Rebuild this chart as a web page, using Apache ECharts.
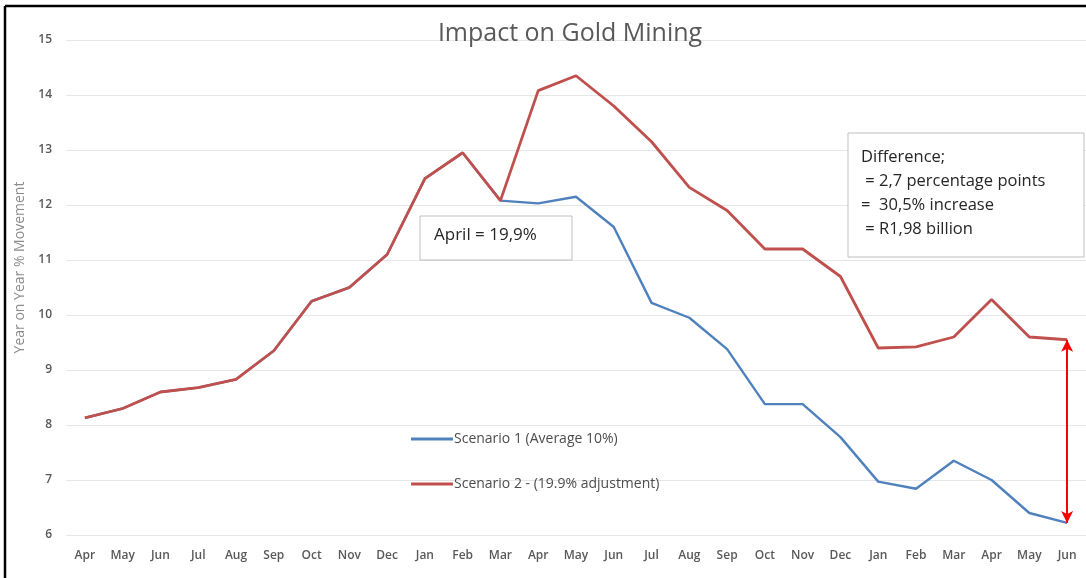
<!DOCTYPE html>
<html>
<head>
<meta charset="utf-8">
<script src="https://cdn.jsdelivr.net/npm/echarts@6/dist/echarts.min.js"></script>
<style>
  html, body { margin: 0; padding: 0; background: #fff; }
  #chart { width: 1086px; height: 578px; }
</style>
</head>
<body>
<div id="chart"></div>
<script>
// months, Apr of year 1 to Jun of year 3
const months = ["Apr", "May", "Jun", "Jul", "Aug", "Sep", "Oct", "Nov", "Dec", "Jan", "Feb", "Mar",
  "Apr", "May", "Jun", "Jul", "Aug", "Sep", "Oct", "Nov", "Dec", "Jan", "Feb", "Mar", "Apr", "May", "Jun"];
const scenario1 = [8.13, 8.3, 8.6, 8.68, 8.83, 9.35, 10.25, 10.5, 11.1, 12.48, 12.95, 12.08,
  12.03, 12.15, 11.6, 10.22, 9.95, 9.38, 8.38, 8.38, 7.78, 6.97, 6.84, 7.35, 7.0, 6.4, 6.22];
const scenario2 = [8.13, 8.3, 8.6, 8.68, 8.83, 9.35, 10.25, 10.5, 11.1, 12.48, 12.95, 12.08,
  14.08, 14.35, 13.8, 13.15, 12.32, 11.9, 11.2, 11.2, 10.7, 9.4, 9.42, 9.6, 10.28, 9.6, 9.55];
const seriesNames = ["Scenario 1 (Average 10%)", "Scenario 2 - (19.9% adjustment)"];
const yTicks = [6, 15, 1]; // min, max, step

const lastIdx = months.length - 1;
const font = "'Open Sans', 'Liberation Sans', sans-serif";

const chart = echarts.init(document.getElementById("chart"));
chart.setOption({
  animation: false,
  textStyle: { fontFamily: font },
  title: {
    text: "Impact on Gold Mining",
    left: 565,
    textAlign: "center",
    top: 16,
    textStyle: { fontSize: 25, fontWeight: "normal", color: "#595959", fontFamily: font }
  },
  legend: {
    orient: "vertical",
    left: 406,
    top: 427,
    itemGap: 31,
    itemWidth: 42,
    itemHeight: 3,
    icon: "rect",
    data: seriesNames,
    textStyle: { fontSize: 14, color: "#4d4d4d", padding: [0, 0, 0, -4] }
  },
  grid: { left: 66, right: 0, top: 40, bottom: 43 },
  xAxis: {
    type: "category",
    data: months,
    axisLine: { show: false },
    axisTick: { show: false },
    axisLabel: { interval: 0, margin: 15, fontSize: 12, color: "#595959", fontWeight: 600 }
  },
  yAxis: {
    type: "value",
    min: yTicks[0],
    max: yTicks[1],
    interval: yTicks[2],
    name: "Year on Year % Movement",
    nameLocation: "middle",
    nameGap: 26,
    nameTextStyle: { fontSize: 14, color: "#8c8c8c", padding: [0, 0, 0, 40] },
    axisLine: { show: false },
    axisTick: { show: false },
    axisLabel: { margin: 14, fontSize: 12, color: "#595959", fontWeight: 600 },
    splitLine: { lineStyle: { color: "#e6e6e6", width: 1 } }
  },
  series: [
    {
      name: seriesNames[0],
      type: "line",
      data: scenario1,
      symbol: "none",
      lineStyle: { color: "#4F81BD", width: 2.4 },
      itemStyle: { color: "#4F81BD" },
      z: 2
    },
    {
      name: seriesNames[1],
      type: "line",
      data: scenario2,
      symbol: "none",
      lineStyle: { color: "#C0504D", width: 2.8 },
      itemStyle: { color: "#C0504D" },
      z: 3,
      markLine: {
        silent: true,
        symbol: ["arrow", "arrow"],
        symbolSize: [9, 12],
        label: { show: false },
        lineStyle: { color: "#FF0000", width: 2, type: "solid" },
        data: [[
          { coord: [lastIdx, scenario2[lastIdx]] },
          { coord: [lastIdx, scenario1[lastIdx]] }
        ]]
      }
    }
  ],
  graphic: [
    // outer frame (left and top edges visible)
    { type: "line", shape: { x1: 5, y1: 6, x2: 1086, y2: 6 }, style: { stroke: "#000", lineWidth: 2.5 } },
    { type: "line", shape: { x1: 5, y1: 6, x2: 5, y2: 578 }, style: { stroke: "#000", lineWidth: 2.5 } },
    // April note
    { type: "rect", shape: { x: 420, y: 216, width: 152, height: 44 },
      style: { fill: "#fff", stroke: "#bfbfbf", lineWidth: 1 }, z: 10 },
    { type: "text", left: 434, top: 227, z: 11,
      style: { text: "April = 19,9%", fontSize: 17, fill: "#262626", fontFamily: font } },
    // difference note
    { type: "rect", shape: { x: 848, y: 133, width: 236, height: 124 },
      style: { fill: "#fff", stroke: "#bfbfbf", lineWidth: 1 }, z: 10 },
    { type: "text", left: 861, top: 145, z: 11,
      style: {
        text: "Difference;\n = 2,7 percentage points\n=  30,5% increase\n = R1,98 billion",
        fontSize: 16.5, lineHeight: 24, fill: "#262626", fontFamily: font
      } }
  ]
});
</script>
</body>
</html>
